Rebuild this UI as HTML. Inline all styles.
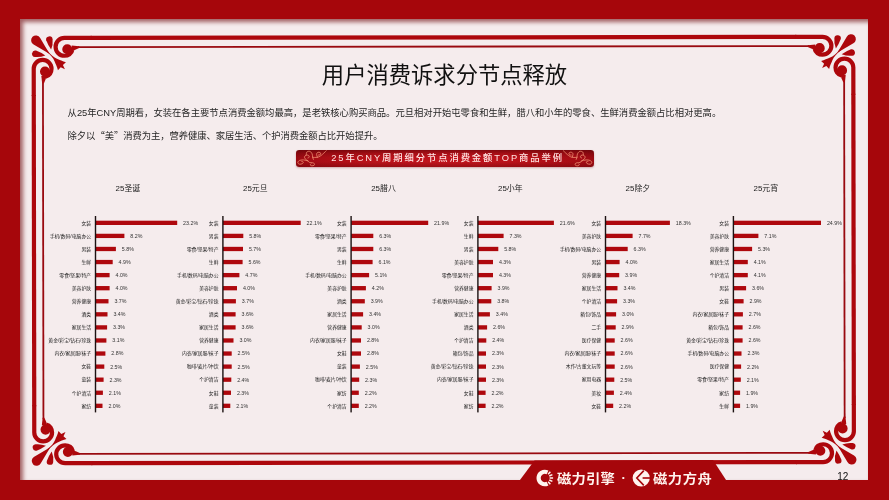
<!DOCTYPE html>
<html lang="zh-CN"><head><meta charset="utf-8"><title>用户消费诉求分节点释放</title>
<style>
html,body{margin:0;padding:0}
body{width:889px;height:500px;overflow:hidden;background:#a6060b;position:relative;font-family:"Liberation Sans","Noto Sans CJK SC",sans-serif}
.abs{position:absolute}
.panel{left:19.8px;top:19.4px;width:848.3px;height:460.4px;background:#f5eced;box-shadow:inset 3px 3px 4.5px rgba(105,0,5,.6)}
.title{left:0;width:889px;top:59.3px;text-align:center;font-size:22.3px;font-weight:400;color:#111;line-height:34px;letter-spacing:0}
.para{left:67.6px;font-size:9.33px;color:#262626;white-space:nowrap;line-height:14px}
.banner{border-radius:3.2px;background:linear-gradient(180deg,rgba(90,4,8,.55) 0%,rgba(90,4,8,.18) 22%,rgba(90,4,8,0) 45%,rgba(90,4,8,0) 70%,rgba(90,4,8,.35) 100%),radial-gradient(ellipse 55% 140% at 50% 70%,#c2151e 0%,#b81119 50%,#a40c14 85%,#8e0910 100%);box-shadow:0 1px 2px rgba(120,20,20,.3)}
.q{font-family:"Noto Sans CJK SC",sans-serif}
.btext{text-align:center;color:#ffe4e2;font-weight:500;font-size:9.33px;letter-spacing:1.9px;white-space:nowrap;text-indent:5.6px}
</style></head><body>
<div class="abs panel"></div>
<svg class="abs" style="left:0;top:0" width="889" height="500" viewBox="0 0 889 500">
<g transform="rotate(-0.086 444.5 250)">
<g fill="#ad070c">
<rect x="91.0" y="35.3" width="705.6" height="4.2"/>
<rect x="91.0" y="460.5" width="705.6" height="4.2"/>
<rect x="31.9" y="94.4" width="4.2" height="311.20000000000005"/>
<rect x="851.5" y="94.4" width="4.2" height="311.20000000000005"/>
</g>
<g fill="#990a10">
<rect x="78.0" y="45.7" width="731.6" height="1.8"/>
<rect x="78.0" y="452.5" width="731.6" height="1.8"/>
<rect x="42.3" y="81.4" width="1.8" height="337.20000000000005"/>
<rect x="843.5000000000001" y="81.4" width="1.8" height="337.20000000000005"/>
</g>
<g transform="translate(32.0,35.4)"><path d="M 60 2 L 32.8 2 A 8.9 8.9 0 0 0 32.8 19.8 C 36.5 19.8 40 17.8 40.6 14" fill="none" stroke="#ad070c" stroke-width="4.2" stroke-linecap="butt"/><circle cx="35.6" cy="13.3" r="5.05" fill="#ad070c"/><path d="M 47.5 10.4 L 40 9.6 L 39.5 15 L 43.6 13.8 L 47.5 12.1 Z" fill="#ad070c"/><g transform="matrix(0 1 1 0 0 0)"><path d="M 60 2 L 32.8 2 A 8.9 8.9 0 0 0 32.8 19.8 C 36.5 19.8 40 17.8 40.6 14" fill="none" stroke="#ad070c" stroke-width="4.2" stroke-linecap="butt"/><circle cx="35.6" cy="13.3" r="5.05" fill="#ad070c"/><path d="M 47.5 10.4 L 40 9.6 L 39.5 15 L 43.6 13.8 L 47.5 12.1 Z" fill="#ad070c"/></g><path d="M 18 18 Q 13 9.6 8.5 1.9 A 4.85 4.85 0 1 0 1.9 8.5 Q 9.6 13 18 18 Z" fill="#ad070c"/><path d="M 19.4 13.6 Q 16.1 8.7 14.5 4.3 A 3.25 3.25 0 1 1 20.9 3.2 Q 21.5 8.6 19.4 13.6 Z" fill="#ad070c"/><g transform="matrix(0 1 1 0 0 0)"><path d="M 19.4 13.6 Q 16.1 8.7 14.5 4.3 A 3.25 3.25 0 1 1 20.9 3.2 Q 21.5 8.6 19.4 13.6 Z" fill="#ad070c"/></g><path d="M 15.6 14.6 C 19 19 22.2 21.6 25.2 22.8 C 28.2 24 30.8 25.4 34.2 26.2 L 31.2 29.0 L 33.2 33.2 L 29.0 31.2 L 26.2 34.2 C 25.4 30.8 24 28.2 22.8 25.2 C 21.6 22.2 19 19 14.6 15.6 Z" fill="#ad070c"/></g>
<g transform="translate(855.6,35.4) scale(-1,1)"><path d="M 60 2 L 32.8 2 A 8.9 8.9 0 0 0 32.8 19.8 C 36.5 19.8 40 17.8 40.6 14" fill="none" stroke="#ad070c" stroke-width="4.2" stroke-linecap="butt"/><circle cx="35.6" cy="13.3" r="5.05" fill="#ad070c"/><path d="M 47.5 10.4 L 40 9.6 L 39.5 15 L 43.6 13.8 L 47.5 12.1 Z" fill="#ad070c"/><g transform="matrix(0 1 1 0 0 0)"><path d="M 60 2 L 32.8 2 A 8.9 8.9 0 0 0 32.8 19.8 C 36.5 19.8 40 17.8 40.6 14" fill="none" stroke="#ad070c" stroke-width="4.2" stroke-linecap="butt"/><circle cx="35.6" cy="13.3" r="5.05" fill="#ad070c"/><path d="M 47.5 10.4 L 40 9.6 L 39.5 15 L 43.6 13.8 L 47.5 12.1 Z" fill="#ad070c"/></g><path d="M 18 18 Q 13 9.6 8.5 1.9 A 4.85 4.85 0 1 0 1.9 8.5 Q 9.6 13 18 18 Z" fill="#ad070c"/><path d="M 19.4 13.6 Q 16.1 8.7 14.5 4.3 A 3.25 3.25 0 1 1 20.9 3.2 Q 21.5 8.6 19.4 13.6 Z" fill="#ad070c"/><g transform="matrix(0 1 1 0 0 0)"><path d="M 19.4 13.6 Q 16.1 8.7 14.5 4.3 A 3.25 3.25 0 1 1 20.9 3.2 Q 21.5 8.6 19.4 13.6 Z" fill="#ad070c"/></g><path d="M 15.6 14.6 C 19 19 22.2 21.6 25.2 22.8 C 28.2 24 30.8 25.4 34.2 26.2 L 31.2 29.0 L 33.2 33.2 L 29.0 31.2 L 26.2 34.2 C 25.4 30.8 24 28.2 22.8 25.2 C 21.6 22.2 19 19 14.6 15.6 Z" fill="#ad070c"/></g>
<g transform="translate(32.0,464.6) scale(1,-1)"><path d="M 60 2 L 32.8 2 A 8.9 8.9 0 0 0 32.8 19.8 C 36.5 19.8 40 17.8 40.6 14" fill="none" stroke="#ad070c" stroke-width="4.2" stroke-linecap="butt"/><circle cx="35.6" cy="13.3" r="5.05" fill="#ad070c"/><path d="M 47.5 10.4 L 40 9.6 L 39.5 15 L 43.6 13.8 L 47.5 12.1 Z" fill="#ad070c"/><g transform="matrix(0 1 1 0 0 0)"><path d="M 60 2 L 32.8 2 A 8.9 8.9 0 0 0 32.8 19.8 C 36.5 19.8 40 17.8 40.6 14" fill="none" stroke="#ad070c" stroke-width="4.2" stroke-linecap="butt"/><circle cx="35.6" cy="13.3" r="5.05" fill="#ad070c"/><path d="M 47.5 10.4 L 40 9.6 L 39.5 15 L 43.6 13.8 L 47.5 12.1 Z" fill="#ad070c"/></g><path d="M 18 18 Q 13 9.6 8.5 1.9 A 4.85 4.85 0 1 0 1.9 8.5 Q 9.6 13 18 18 Z" fill="#ad070c"/><path d="M 19.4 13.6 Q 16.1 8.7 14.5 4.3 A 3.25 3.25 0 1 1 20.9 3.2 Q 21.5 8.6 19.4 13.6 Z" fill="#ad070c"/><g transform="matrix(0 1 1 0 0 0)"><path d="M 19.4 13.6 Q 16.1 8.7 14.5 4.3 A 3.25 3.25 0 1 1 20.9 3.2 Q 21.5 8.6 19.4 13.6 Z" fill="#ad070c"/></g><path d="M 15.6 14.6 C 19 19 22.2 21.6 25.2 22.8 C 28.2 24 30.8 25.4 34.2 26.2 L 31.2 29.0 L 33.2 33.2 L 29.0 31.2 L 26.2 34.2 C 25.4 30.8 24 28.2 22.8 25.2 C 21.6 22.2 19 19 14.6 15.6 Z" fill="#ad070c"/></g>
<g transform="translate(855.6,464.6) scale(-1,-1)"><path d="M 60 2 L 32.8 2 A 8.9 8.9 0 0 0 32.8 19.8 C 36.5 19.8 40 17.8 40.6 14" fill="none" stroke="#ad070c" stroke-width="4.2" stroke-linecap="butt"/><circle cx="35.6" cy="13.3" r="5.05" fill="#ad070c"/><path d="M 47.5 10.4 L 40 9.6 L 39.5 15 L 43.6 13.8 L 47.5 12.1 Z" fill="#ad070c"/><g transform="matrix(0 1 1 0 0 0)"><path d="M 60 2 L 32.8 2 A 8.9 8.9 0 0 0 32.8 19.8 C 36.5 19.8 40 17.8 40.6 14" fill="none" stroke="#ad070c" stroke-width="4.2" stroke-linecap="butt"/><circle cx="35.6" cy="13.3" r="5.05" fill="#ad070c"/><path d="M 47.5 10.4 L 40 9.6 L 39.5 15 L 43.6 13.8 L 47.5 12.1 Z" fill="#ad070c"/></g><path d="M 18 18 Q 13 9.6 8.5 1.9 A 4.85 4.85 0 1 0 1.9 8.5 Q 9.6 13 18 18 Z" fill="#ad070c"/><path d="M 19.4 13.6 Q 16.1 8.7 14.5 4.3 A 3.25 3.25 0 1 1 20.9 3.2 Q 21.5 8.6 19.4 13.6 Z" fill="#ad070c"/><g transform="matrix(0 1 1 0 0 0)"><path d="M 19.4 13.6 Q 16.1 8.7 14.5 4.3 A 3.25 3.25 0 1 1 20.9 3.2 Q 21.5 8.6 19.4 13.6 Z" fill="#ad070c"/></g><path d="M 15.6 14.6 C 19 19 22.2 21.6 25.2 22.8 C 28.2 24 30.8 25.4 34.2 26.2 L 31.2 29.0 L 33.2 33.2 L 29.0 31.2 L 26.2 34.2 C 25.4 30.8 24 28.2 22.8 25.2 C 21.6 22.2 19 19 14.6 15.6 Z" fill="#ad070c"/></g>
</g>
</svg>
<div class="abs title">用户消费诉求分节点释放</div>
<div class="abs para" style="top:106px;letter-spacing:-0.02px">从25年CNY周期看，女装在各主要节点消费金额均最高，是老铁核心购买商品。元旦相对开始屯零食和生鲜，腊八和小年的零食、生鲜消费金额占比相对更高。</div>
<div class="abs para" style="top:128.2px;letter-spacing:-0.07px">除夕以<span class="q">“</span>美<span class="q">”</span>消费为主，营养健康、家居生活、个护消费金额占比开始提升。</div>
<div class="abs banner" style="left:296.0px;top:150.0px;width:297.6px;height:17.0px"></div>
<svg class="abs" style="left:296.0px;top:150.0px" width="297.6" height="17.0" viewBox="0 0 297.6 17.0">
<path d="M 11.90 10.90 C 11.17 10.73 8.92 9.97 7.50 9.90 C 6.08 9.83 4.35 10.05 3.40 10.50 C 2.45 10.95 1.80 11.98 1.80 12.60 C 1.80 13.22 2.62 14.03 3.40 14.20 C 4.18 14.37 5.87 13.98 6.50 13.60 C 7.13 13.22 7.37 12.28 7.20 11.90 C 7.03 11.52 5.78 11.40 5.50 11.30 M 11.90 10.90 C 11.45 10.55 9.77 9.48 9.20 8.80 C 8.63 8.12 8.33 7.42 8.50 6.80 C 8.67 6.18 9.52 5.32 10.20 5.10 C 10.88 4.88 12.10 5.15 12.60 5.50 C 13.10 5.85 13.32 6.80 13.20 7.20 C 13.08 7.60 12.12 7.78 11.90 7.90 M 10.20 5.10 C 10.32 4.58 10.27 2.62 10.90 2.00 C 11.53 1.38 13.12 1.05 14.00 1.40 C 14.88 1.75 15.77 3.12 16.20 4.10 C 16.63 5.08 16.40 6.42 16.60 7.30 C 16.80 8.18 17.27 9.05 17.40 9.40 M 11.90 10.90 C 12.18 11.17 12.87 12.20 13.60 12.50 C 14.33 12.80 15.52 12.52 16.30 12.70 C 17.08 12.88 18.00 13.17 18.30 13.60 C 18.60 14.03 18.52 14.93 18.10 15.30 C 17.68 15.67 16.45 15.87 15.80 15.80 C 15.15 15.73 14.33 15.22 14.20 14.90 C 14.07 14.58 14.87 14.07 15.00 13.90 M 16.60 7.30 C 17.33 7.32 19.60 7.68 21.00 7.40 C 22.40 7.12 23.47 6.70 25.00 5.60 C 26.53 4.50 29.33 1.60 30.20 0.80 M 21.40 7.30 C 21.27 6.82 20.63 5.15 20.60 4.40 C 20.57 3.65 20.80 3.17 21.20 2.80 C 21.60 2.43 22.42 2.13 23.00 2.20 C 23.58 2.27 24.52 2.77 24.70 3.20 C 24.88 3.63 24.47 4.50 24.10 4.80 C 23.73 5.10 22.77 4.97 22.50 5.00" fill="none" stroke="#ec8a6e" stroke-width="0.9" stroke-linecap="round" stroke-linejoin="round" opacity="0.92"/>
<g transform="translate(297.6,0) scale(-1,1)"><path d="M 11.90 10.90 C 11.17 10.73 8.92 9.97 7.50 9.90 C 6.08 9.83 4.35 10.05 3.40 10.50 C 2.45 10.95 1.80 11.98 1.80 12.60 C 1.80 13.22 2.62 14.03 3.40 14.20 C 4.18 14.37 5.87 13.98 6.50 13.60 C 7.13 13.22 7.37 12.28 7.20 11.90 C 7.03 11.52 5.78 11.40 5.50 11.30 M 11.90 10.90 C 11.45 10.55 9.77 9.48 9.20 8.80 C 8.63 8.12 8.33 7.42 8.50 6.80 C 8.67 6.18 9.52 5.32 10.20 5.10 C 10.88 4.88 12.10 5.15 12.60 5.50 C 13.10 5.85 13.32 6.80 13.20 7.20 C 13.08 7.60 12.12 7.78 11.90 7.90 M 10.20 5.10 C 10.32 4.58 10.27 2.62 10.90 2.00 C 11.53 1.38 13.12 1.05 14.00 1.40 C 14.88 1.75 15.77 3.12 16.20 4.10 C 16.63 5.08 16.40 6.42 16.60 7.30 C 16.80 8.18 17.27 9.05 17.40 9.40 M 11.90 10.90 C 12.18 11.17 12.87 12.20 13.60 12.50 C 14.33 12.80 15.52 12.52 16.30 12.70 C 17.08 12.88 18.00 13.17 18.30 13.60 C 18.60 14.03 18.52 14.93 18.10 15.30 C 17.68 15.67 16.45 15.87 15.80 15.80 C 15.15 15.73 14.33 15.22 14.20 14.90 C 14.07 14.58 14.87 14.07 15.00 13.90 M 16.60 7.30 C 17.33 7.32 19.60 7.68 21.00 7.40 C 22.40 7.12 23.47 6.70 25.00 5.60 C 26.53 4.50 29.33 1.60 30.20 0.80 M 21.40 7.30 C 21.27 6.82 20.63 5.15 20.60 4.40 C 20.57 3.65 20.80 3.17 21.20 2.80 C 21.60 2.43 22.42 2.13 23.00 2.20 C 23.58 2.27 24.52 2.77 24.70 3.20 C 24.88 3.63 24.47 4.50 24.10 4.80 C 23.73 5.10 22.77 4.97 22.50 5.00" fill="none" stroke="#ec8a6e" stroke-width="0.9" stroke-linecap="round" stroke-linejoin="round" opacity="0.92"/></g>
</svg>
<div class="abs btext" style="left:296.0px;top:150.0px;width:297.6px;height:17.0px;line-height:17.0px">25年CNY周期细分节点消费金额TOP商品举例</div>
<svg class="abs" style="left:0;top:0" width="889" height="500" viewBox="0 0 889 500">
<g font-family="'Liberation Sans','Noto Sans CJK SC',sans-serif" fill="#333">
<text x="127.9" y="190.7" font-size="7.9" text-anchor="middle" fill="#222">25圣诞</text>
<rect x="95.5" y="220.69" width="81.7" height="4.3" fill="#ae080d"/>
<text x="91.1" y="224.64" font-size="4.85" text-anchor="end" fill="#222">女装</text>
<text x="183.1" y="224.74" font-size="5.3" fill="#333">23.2%</text>
<rect x="95.5" y="233.75" width="28.9" height="4.3" fill="#ae080d"/>
<text x="91.1" y="237.71" font-size="4.85" text-anchor="end" fill="#222">手机/数码/电脑办公</text>
<text x="130.3" y="237.81" font-size="5.3" fill="#333">8.2%</text>
<rect x="95.5" y="246.83" width="20.4" height="4.3" fill="#ae080d"/>
<text x="91.1" y="250.78" font-size="4.85" text-anchor="end" fill="#222">男装</text>
<text x="121.8" y="250.88" font-size="5.3" fill="#333">5.8%</text>
<rect x="95.5" y="259.90" width="17.2" height="4.3" fill="#ae080d"/>
<text x="91.1" y="263.85" font-size="4.85" text-anchor="end" fill="#222">生鲜</text>
<text x="118.6" y="263.94" font-size="5.3" fill="#333">4.9%</text>
<rect x="95.5" y="272.97" width="14.1" height="4.3" fill="#ae080d"/>
<text x="91.1" y="276.92" font-size="4.85" text-anchor="end" fill="#222">零食/坚果/特产</text>
<text x="115.5" y="277.01" font-size="5.3" fill="#333">4.0%</text>
<rect x="95.5" y="286.04" width="14.1" height="4.3" fill="#ae080d"/>
<text x="91.1" y="289.99" font-size="4.85" text-anchor="end" fill="#222">美容护肤</text>
<text x="115.5" y="290.08" font-size="5.3" fill="#333">4.0%</text>
<rect x="95.5" y="299.11" width="13.0" height="4.3" fill="#ae080d"/>
<text x="91.1" y="303.06" font-size="4.85" text-anchor="end" fill="#222">营养健康</text>
<text x="114.4" y="303.15" font-size="5.3" fill="#333">3.7%</text>
<rect x="95.5" y="312.18" width="12.0" height="4.3" fill="#ae080d"/>
<text x="91.1" y="316.13" font-size="4.85" text-anchor="end" fill="#222">酒类</text>
<text x="113.4" y="316.23" font-size="5.3" fill="#333">3.4%</text>
<rect x="95.5" y="325.25" width="11.6" height="4.3" fill="#ae080d"/>
<text x="91.1" y="329.19" font-size="4.85" text-anchor="end" fill="#222">家居生活</text>
<text x="113.0" y="329.29" font-size="5.3" fill="#333">3.3%</text>
<rect x="95.5" y="338.32" width="10.9" height="4.3" fill="#ae080d"/>
<text x="91.1" y="342.27" font-size="4.85" text-anchor="end" fill="#222">黄金/彩宝/钻石/珍珠</text>
<text x="112.3" y="342.37" font-size="5.3" fill="#333">3.1%</text>
<rect x="95.5" y="351.39" width="9.9" height="4.3" fill="#ae080d"/>
<text x="91.1" y="355.34" font-size="4.85" text-anchor="end" fill="#222">内衣/家居服/袜子</text>
<text x="111.3" y="355.44" font-size="5.3" fill="#333">2.8%</text>
<rect x="95.5" y="364.46" width="8.8" height="4.3" fill="#ae080d"/>
<text x="91.1" y="368.41" font-size="4.85" text-anchor="end" fill="#222">女鞋</text>
<text x="110.2" y="368.50" font-size="5.3" fill="#333">2.5%</text>
<rect x="95.5" y="377.53" width="8.1" height="4.3" fill="#ae080d"/>
<text x="91.1" y="381.48" font-size="4.85" text-anchor="end" fill="#222">童装</text>
<text x="109.5" y="381.57" font-size="5.3" fill="#333">2.3%</text>
<rect x="95.5" y="390.60" width="7.4" height="4.3" fill="#ae080d"/>
<text x="91.1" y="394.55" font-size="4.85" text-anchor="end" fill="#222">个护清洁</text>
<text x="108.8" y="394.64" font-size="5.3" fill="#333">2.1%</text>
<rect x="95.5" y="403.67" width="7.0" height="4.3" fill="#ae080d"/>
<text x="91.1" y="407.62" font-size="4.85" text-anchor="end" fill="#222">家纺</text>
<text x="108.4" y="407.72" font-size="5.3" fill="#333">2.0%</text>
<rect x="94.8" y="216.0" width="1.4" height="196.4" fill="#1c1212"/>
<text x="255.3" y="190.7" font-size="7.9" text-anchor="middle" fill="#222">25元旦</text>
<rect x="222.9" y="220.69" width="77.8" height="4.3" fill="#ae080d"/>
<text x="218.5" y="224.64" font-size="4.85" text-anchor="end" fill="#222">女装</text>
<text x="306.6" y="224.74" font-size="5.3" fill="#333">22.1%</text>
<rect x="222.9" y="233.75" width="20.4" height="4.3" fill="#ae080d"/>
<text x="218.5" y="237.71" font-size="4.85" text-anchor="end" fill="#222">男装</text>
<text x="249.2" y="237.81" font-size="5.3" fill="#333">5.8%</text>
<rect x="222.9" y="246.83" width="20.1" height="4.3" fill="#ae080d"/>
<text x="218.5" y="250.78" font-size="4.85" text-anchor="end" fill="#222">零食/坚果/特产</text>
<text x="248.9" y="250.88" font-size="5.3" fill="#333">5.7%</text>
<rect x="222.9" y="259.90" width="19.7" height="4.3" fill="#ae080d"/>
<text x="218.5" y="263.85" font-size="4.85" text-anchor="end" fill="#222">生鲜</text>
<text x="248.5" y="263.94" font-size="5.3" fill="#333">5.6%</text>
<rect x="222.9" y="272.97" width="16.5" height="4.3" fill="#ae080d"/>
<text x="218.5" y="276.92" font-size="4.85" text-anchor="end" fill="#222">手机/数码/电脑办公</text>
<text x="245.3" y="277.01" font-size="5.3" fill="#333">4.7%</text>
<rect x="222.9" y="286.04" width="14.1" height="4.3" fill="#ae080d"/>
<text x="218.5" y="289.99" font-size="4.85" text-anchor="end" fill="#222">美容护肤</text>
<text x="242.9" y="290.08" font-size="5.3" fill="#333">4.0%</text>
<rect x="222.9" y="299.11" width="13.0" height="4.3" fill="#ae080d"/>
<text x="218.5" y="303.06" font-size="4.85" text-anchor="end" fill="#222">黄金/彩宝/钻石/珍珠</text>
<text x="241.8" y="303.15" font-size="5.3" fill="#333">3.7%</text>
<rect x="222.9" y="312.18" width="12.7" height="4.3" fill="#ae080d"/>
<text x="218.5" y="316.13" font-size="4.85" text-anchor="end" fill="#222">酒类</text>
<text x="241.5" y="316.23" font-size="5.3" fill="#333">3.6%</text>
<rect x="222.9" y="325.25" width="12.7" height="4.3" fill="#ae080d"/>
<text x="218.5" y="329.19" font-size="4.85" text-anchor="end" fill="#222">家居生活</text>
<text x="241.5" y="329.29" font-size="5.3" fill="#333">3.6%</text>
<rect x="222.9" y="338.32" width="10.6" height="4.3" fill="#ae080d"/>
<text x="218.5" y="342.27" font-size="4.85" text-anchor="end" fill="#222">营养健康</text>
<text x="239.4" y="342.37" font-size="5.3" fill="#333">3.0%</text>
<rect x="222.9" y="351.39" width="8.8" height="4.3" fill="#ae080d"/>
<text x="218.5" y="355.34" font-size="4.85" text-anchor="end" fill="#222">内衣/家居服/袜子</text>
<text x="237.6" y="355.44" font-size="5.3" fill="#333">2.5%</text>
<rect x="222.9" y="364.46" width="8.8" height="4.3" fill="#ae080d"/>
<text x="218.5" y="368.41" font-size="4.85" text-anchor="end" fill="#222">咖啡/麦片/冲饮</text>
<text x="237.6" y="368.50" font-size="5.3" fill="#333">2.5%</text>
<rect x="222.9" y="377.53" width="8.4" height="4.3" fill="#ae080d"/>
<text x="218.5" y="381.48" font-size="4.85" text-anchor="end" fill="#222">个护清洁</text>
<text x="237.2" y="381.57" font-size="5.3" fill="#333">2.4%</text>
<rect x="222.9" y="390.60" width="8.1" height="4.3" fill="#ae080d"/>
<text x="218.5" y="394.55" font-size="4.85" text-anchor="end" fill="#222">女鞋</text>
<text x="236.9" y="394.64" font-size="5.3" fill="#333">2.3%</text>
<rect x="222.9" y="403.67" width="7.4" height="4.3" fill="#ae080d"/>
<text x="218.5" y="407.62" font-size="4.85" text-anchor="end" fill="#222">童装</text>
<text x="236.2" y="407.72" font-size="5.3" fill="#333">2.1%</text>
<rect x="222.2" y="216.0" width="1.4" height="196.4" fill="#1c1212"/>
<text x="383.5" y="190.7" font-size="7.9" text-anchor="middle" fill="#222">25腊八</text>
<rect x="351.1" y="220.69" width="77.1" height="4.3" fill="#ae080d"/>
<text x="346.7" y="224.64" font-size="4.85" text-anchor="end" fill="#222">女装</text>
<text x="434.1" y="224.74" font-size="5.3" fill="#333">21.9%</text>
<rect x="351.1" y="233.75" width="22.2" height="4.3" fill="#ae080d"/>
<text x="346.7" y="237.71" font-size="4.85" text-anchor="end" fill="#222">零食/坚果/特产</text>
<text x="379.2" y="237.81" font-size="5.3" fill="#333">6.3%</text>
<rect x="351.1" y="246.83" width="22.2" height="4.3" fill="#ae080d"/>
<text x="346.7" y="250.78" font-size="4.85" text-anchor="end" fill="#222">男装</text>
<text x="379.2" y="250.88" font-size="5.3" fill="#333">6.3%</text>
<rect x="351.1" y="259.90" width="21.5" height="4.3" fill="#ae080d"/>
<text x="346.7" y="263.85" font-size="4.85" text-anchor="end" fill="#222">生鲜</text>
<text x="378.5" y="263.94" font-size="5.3" fill="#333">6.1%</text>
<rect x="351.1" y="272.97" width="18.0" height="4.3" fill="#ae080d"/>
<text x="346.7" y="276.92" font-size="4.85" text-anchor="end" fill="#222">手机/数码/电脑办公</text>
<text x="375.0" y="277.01" font-size="5.3" fill="#333">5.1%</text>
<rect x="351.1" y="286.04" width="14.8" height="4.3" fill="#ae080d"/>
<text x="346.7" y="289.99" font-size="4.85" text-anchor="end" fill="#222">美容护肤</text>
<text x="371.8" y="290.08" font-size="5.3" fill="#333">4.2%</text>
<rect x="351.1" y="299.11" width="13.7" height="4.3" fill="#ae080d"/>
<text x="346.7" y="303.06" font-size="4.85" text-anchor="end" fill="#222">酒类</text>
<text x="370.7" y="303.15" font-size="5.3" fill="#333">3.9%</text>
<rect x="351.1" y="312.18" width="12.0" height="4.3" fill="#ae080d"/>
<text x="346.7" y="316.13" font-size="4.85" text-anchor="end" fill="#222">家居生活</text>
<text x="369.0" y="316.23" font-size="5.3" fill="#333">3.4%</text>
<rect x="351.1" y="325.25" width="10.6" height="4.3" fill="#ae080d"/>
<text x="346.7" y="329.19" font-size="4.85" text-anchor="end" fill="#222">营养健康</text>
<text x="367.6" y="329.29" font-size="5.3" fill="#333">3.0%</text>
<rect x="351.1" y="338.32" width="9.9" height="4.3" fill="#ae080d"/>
<text x="346.7" y="342.27" font-size="4.85" text-anchor="end" fill="#222">内衣/家居服/袜子</text>
<text x="366.9" y="342.37" font-size="5.3" fill="#333">2.8%</text>
<rect x="351.1" y="351.39" width="9.9" height="4.3" fill="#ae080d"/>
<text x="346.7" y="355.34" font-size="4.85" text-anchor="end" fill="#222">女鞋</text>
<text x="366.9" y="355.44" font-size="5.3" fill="#333">2.8%</text>
<rect x="351.1" y="364.46" width="8.8" height="4.3" fill="#ae080d"/>
<text x="346.7" y="368.41" font-size="4.85" text-anchor="end" fill="#222">童装</text>
<text x="365.8" y="368.50" font-size="5.3" fill="#333">2.5%</text>
<rect x="351.1" y="377.53" width="8.1" height="4.3" fill="#ae080d"/>
<text x="346.7" y="381.48" font-size="4.85" text-anchor="end" fill="#222">咖啡/麦片/冲饮</text>
<text x="365.1" y="381.57" font-size="5.3" fill="#333">2.3%</text>
<rect x="351.1" y="390.60" width="7.7" height="4.3" fill="#ae080d"/>
<text x="346.7" y="394.55" font-size="4.85" text-anchor="end" fill="#222">家纺</text>
<text x="364.7" y="394.64" font-size="5.3" fill="#333">2.2%</text>
<rect x="351.1" y="403.67" width="7.7" height="4.3" fill="#ae080d"/>
<text x="346.7" y="407.62" font-size="4.85" text-anchor="end" fill="#222">个护清洁</text>
<text x="364.7" y="407.72" font-size="5.3" fill="#333">2.2%</text>
<rect x="350.4" y="216.0" width="1.4" height="196.4" fill="#1c1212"/>
<text x="510.3" y="190.7" font-size="7.9" text-anchor="middle" fill="#222">25小年</text>
<rect x="477.9" y="220.69" width="76.0" height="4.3" fill="#ae080d"/>
<text x="473.5" y="224.64" font-size="4.85" text-anchor="end" fill="#222">女装</text>
<text x="559.8" y="224.74" font-size="5.3" fill="#333">21.6%</text>
<rect x="477.9" y="233.75" width="25.7" height="4.3" fill="#ae080d"/>
<text x="473.5" y="237.71" font-size="4.85" text-anchor="end" fill="#222">生鲜</text>
<text x="509.5" y="237.81" font-size="5.3" fill="#333">7.3%</text>
<rect x="477.9" y="246.83" width="20.4" height="4.3" fill="#ae080d"/>
<text x="473.5" y="250.78" font-size="4.85" text-anchor="end" fill="#222">男装</text>
<text x="504.2" y="250.88" font-size="5.3" fill="#333">5.8%</text>
<rect x="477.9" y="259.90" width="15.1" height="4.3" fill="#ae080d"/>
<text x="473.5" y="263.85" font-size="4.85" text-anchor="end" fill="#222">美容护肤</text>
<text x="498.9" y="263.94" font-size="5.3" fill="#333">4.3%</text>
<rect x="477.9" y="272.97" width="15.1" height="4.3" fill="#ae080d"/>
<text x="473.5" y="276.92" font-size="4.85" text-anchor="end" fill="#222">零食/坚果/特产</text>
<text x="498.9" y="277.01" font-size="5.3" fill="#333">4.3%</text>
<rect x="477.9" y="286.04" width="13.7" height="4.3" fill="#ae080d"/>
<text x="473.5" y="289.99" font-size="4.85" text-anchor="end" fill="#222">营养健康</text>
<text x="497.5" y="290.08" font-size="5.3" fill="#333">3.9%</text>
<rect x="477.9" y="299.11" width="13.4" height="4.3" fill="#ae080d"/>
<text x="473.5" y="303.06" font-size="4.85" text-anchor="end" fill="#222">手机/数码/电脑办公</text>
<text x="497.2" y="303.15" font-size="5.3" fill="#333">3.8%</text>
<rect x="477.9" y="312.18" width="12.0" height="4.3" fill="#ae080d"/>
<text x="473.5" y="316.13" font-size="4.85" text-anchor="end" fill="#222">家居生活</text>
<text x="495.8" y="316.23" font-size="5.3" fill="#333">3.4%</text>
<rect x="477.9" y="325.25" width="9.2" height="4.3" fill="#ae080d"/>
<text x="473.5" y="329.19" font-size="4.85" text-anchor="end" fill="#222">酒类</text>
<text x="493.0" y="329.29" font-size="5.3" fill="#333">2.6%</text>
<rect x="477.9" y="338.32" width="8.4" height="4.3" fill="#ae080d"/>
<text x="473.5" y="342.27" font-size="4.85" text-anchor="end" fill="#222">个护清洁</text>
<text x="492.2" y="342.37" font-size="5.3" fill="#333">2.4%</text>
<rect x="477.9" y="351.39" width="8.1" height="4.3" fill="#ae080d"/>
<text x="473.5" y="355.34" font-size="4.85" text-anchor="end" fill="#222">箱包/饰品</text>
<text x="491.9" y="355.44" font-size="5.3" fill="#333">2.3%</text>
<rect x="477.9" y="364.46" width="8.1" height="4.3" fill="#ae080d"/>
<text x="473.5" y="368.41" font-size="4.85" text-anchor="end" fill="#222">黄金/彩宝/钻石/珍珠</text>
<text x="491.9" y="368.50" font-size="5.3" fill="#333">2.3%</text>
<rect x="477.9" y="377.53" width="8.1" height="4.3" fill="#ae080d"/>
<text x="473.5" y="381.48" font-size="4.85" text-anchor="end" fill="#222">内衣/家居服/袜子</text>
<text x="491.9" y="381.57" font-size="5.3" fill="#333">2.3%</text>
<rect x="477.9" y="390.60" width="7.7" height="4.3" fill="#ae080d"/>
<text x="473.5" y="394.55" font-size="4.85" text-anchor="end" fill="#222">女鞋</text>
<text x="491.5" y="394.64" font-size="5.3" fill="#333">2.2%</text>
<rect x="477.9" y="403.67" width="7.7" height="4.3" fill="#ae080d"/>
<text x="473.5" y="407.62" font-size="4.85" text-anchor="end" fill="#222">家纺</text>
<text x="491.5" y="407.72" font-size="5.3" fill="#333">2.2%</text>
<rect x="477.2" y="216.0" width="1.4" height="196.4" fill="#1c1212"/>
<text x="637.9" y="190.7" font-size="7.9" text-anchor="middle" fill="#222">25除夕</text>
<rect x="605.5" y="220.69" width="64.4" height="4.3" fill="#ae080d"/>
<text x="601.1" y="224.64" font-size="4.85" text-anchor="end" fill="#222">女装</text>
<text x="675.8" y="224.74" font-size="5.3" fill="#333">18.3%</text>
<rect x="605.5" y="233.75" width="27.1" height="4.3" fill="#ae080d"/>
<text x="601.1" y="237.71" font-size="4.85" text-anchor="end" fill="#222">美容护肤</text>
<text x="638.5" y="237.81" font-size="5.3" fill="#333">7.7%</text>
<rect x="605.5" y="246.83" width="22.2" height="4.3" fill="#ae080d"/>
<text x="601.1" y="250.78" font-size="4.85" text-anchor="end" fill="#222">手机/数码/电脑办公</text>
<text x="633.6" y="250.88" font-size="5.3" fill="#333">6.3%</text>
<rect x="605.5" y="259.90" width="14.1" height="4.3" fill="#ae080d"/>
<text x="601.1" y="263.85" font-size="4.85" text-anchor="end" fill="#222">男装</text>
<text x="625.5" y="263.94" font-size="5.3" fill="#333">4.0%</text>
<rect x="605.5" y="272.97" width="13.7" height="4.3" fill="#ae080d"/>
<text x="601.1" y="276.92" font-size="4.85" text-anchor="end" fill="#222">营养健康</text>
<text x="625.1" y="277.01" font-size="5.3" fill="#333">3.9%</text>
<rect x="605.5" y="286.04" width="12.0" height="4.3" fill="#ae080d"/>
<text x="601.1" y="289.99" font-size="4.85" text-anchor="end" fill="#222">家居生活</text>
<text x="623.4" y="290.08" font-size="5.3" fill="#333">3.4%</text>
<rect x="605.5" y="299.11" width="11.6" height="4.3" fill="#ae080d"/>
<text x="601.1" y="303.06" font-size="4.85" text-anchor="end" fill="#222">个护清洁</text>
<text x="623.0" y="303.15" font-size="5.3" fill="#333">3.3%</text>
<rect x="605.5" y="312.18" width="10.6" height="4.3" fill="#ae080d"/>
<text x="601.1" y="316.13" font-size="4.85" text-anchor="end" fill="#222">箱包/饰品</text>
<text x="622.0" y="316.23" font-size="5.3" fill="#333">3.0%</text>
<rect x="605.5" y="325.25" width="10.2" height="4.3" fill="#ae080d"/>
<text x="601.1" y="329.19" font-size="4.85" text-anchor="end" fill="#222">二手</text>
<text x="621.6" y="329.29" font-size="5.3" fill="#333">2.9%</text>
<rect x="605.5" y="338.32" width="9.2" height="4.3" fill="#ae080d"/>
<text x="601.1" y="342.27" font-size="4.85" text-anchor="end" fill="#222">医疗保健</text>
<text x="620.6" y="342.37" font-size="5.3" fill="#333">2.6%</text>
<rect x="605.5" y="351.39" width="9.2" height="4.3" fill="#ae080d"/>
<text x="601.1" y="355.34" font-size="4.85" text-anchor="end" fill="#222">内衣/家居服/袜子</text>
<text x="620.6" y="355.44" font-size="5.3" fill="#333">2.6%</text>
<rect x="605.5" y="364.46" width="9.2" height="4.3" fill="#ae080d"/>
<text x="601.1" y="368.41" font-size="4.85" text-anchor="end" fill="#222">木作/古董文玩等</text>
<text x="620.6" y="368.50" font-size="5.3" fill="#333">2.6%</text>
<rect x="605.5" y="377.53" width="8.8" height="4.3" fill="#ae080d"/>
<text x="601.1" y="381.48" font-size="4.85" text-anchor="end" fill="#222">家用电器</text>
<text x="620.2" y="381.57" font-size="5.3" fill="#333">2.5%</text>
<rect x="605.5" y="390.60" width="8.4" height="4.3" fill="#ae080d"/>
<text x="601.1" y="394.55" font-size="4.85" text-anchor="end" fill="#222">美妆</text>
<text x="619.8" y="394.64" font-size="5.3" fill="#333">2.4%</text>
<rect x="605.5" y="403.67" width="7.7" height="4.3" fill="#ae080d"/>
<text x="601.1" y="407.62" font-size="4.85" text-anchor="end" fill="#222">女鞋</text>
<text x="619.1" y="407.72" font-size="5.3" fill="#333">2.2%</text>
<rect x="604.8" y="216.0" width="1.4" height="196.4" fill="#1c1212"/>
<text x="765.8" y="190.7" font-size="7.9" text-anchor="middle" fill="#222">25元宵</text>
<rect x="733.4" y="220.69" width="87.6" height="4.3" fill="#ae080d"/>
<text x="729.0" y="224.64" font-size="4.85" text-anchor="end" fill="#222">女装</text>
<text x="826.9" y="224.74" font-size="5.3" fill="#333">24.9%</text>
<rect x="733.4" y="233.75" width="25.0" height="4.3" fill="#ae080d"/>
<text x="729.0" y="237.71" font-size="4.85" text-anchor="end" fill="#222">美容护肤</text>
<text x="764.3" y="237.81" font-size="5.3" fill="#333">7.1%</text>
<rect x="733.4" y="246.83" width="18.7" height="4.3" fill="#ae080d"/>
<text x="729.0" y="250.78" font-size="4.85" text-anchor="end" fill="#222">营养健康</text>
<text x="758.0" y="250.88" font-size="5.3" fill="#333">5.3%</text>
<rect x="733.4" y="259.90" width="14.4" height="4.3" fill="#ae080d"/>
<text x="729.0" y="263.85" font-size="4.85" text-anchor="end" fill="#222">家居生活</text>
<text x="753.7" y="263.94" font-size="5.3" fill="#333">4.1%</text>
<rect x="733.4" y="272.97" width="14.4" height="4.3" fill="#ae080d"/>
<text x="729.0" y="276.92" font-size="4.85" text-anchor="end" fill="#222">个护清洁</text>
<text x="753.7" y="277.01" font-size="5.3" fill="#333">4.1%</text>
<rect x="733.4" y="286.04" width="12.7" height="4.3" fill="#ae080d"/>
<text x="729.0" y="289.99" font-size="4.85" text-anchor="end" fill="#222">男装</text>
<text x="752.0" y="290.08" font-size="5.3" fill="#333">3.6%</text>
<rect x="733.4" y="299.11" width="10.2" height="4.3" fill="#ae080d"/>
<text x="729.0" y="303.06" font-size="4.85" text-anchor="end" fill="#222">女鞋</text>
<text x="749.5" y="303.15" font-size="5.3" fill="#333">2.9%</text>
<rect x="733.4" y="312.18" width="9.5" height="4.3" fill="#ae080d"/>
<text x="729.0" y="316.13" font-size="4.85" text-anchor="end" fill="#222">内衣/家居服/袜子</text>
<text x="748.8" y="316.23" font-size="5.3" fill="#333">2.7%</text>
<rect x="733.4" y="325.25" width="9.2" height="4.3" fill="#ae080d"/>
<text x="729.0" y="329.19" font-size="4.85" text-anchor="end" fill="#222">箱包/饰品</text>
<text x="748.5" y="329.29" font-size="5.3" fill="#333">2.6%</text>
<rect x="733.4" y="338.32" width="9.2" height="4.3" fill="#ae080d"/>
<text x="729.0" y="342.27" font-size="4.85" text-anchor="end" fill="#222">黄金/彩宝/钻石/珍珠</text>
<text x="748.5" y="342.37" font-size="5.3" fill="#333">2.6%</text>
<rect x="733.4" y="351.39" width="8.1" height="4.3" fill="#ae080d"/>
<text x="729.0" y="355.34" font-size="4.85" text-anchor="end" fill="#222">手机/数码/电脑办公</text>
<text x="747.4" y="355.44" font-size="5.3" fill="#333">2.3%</text>
<rect x="733.4" y="364.46" width="7.7" height="4.3" fill="#ae080d"/>
<text x="729.0" y="368.41" font-size="4.85" text-anchor="end" fill="#222">医疗保健</text>
<text x="747.0" y="368.50" font-size="5.3" fill="#333">2.2%</text>
<rect x="733.4" y="377.53" width="7.4" height="4.3" fill="#ae080d"/>
<text x="729.0" y="381.48" font-size="4.85" text-anchor="end" fill="#222">零食/坚果/特产</text>
<text x="746.7" y="381.57" font-size="5.3" fill="#333">2.1%</text>
<rect x="733.4" y="390.60" width="6.7" height="4.3" fill="#ae080d"/>
<text x="729.0" y="394.55" font-size="4.85" text-anchor="end" fill="#222">家纺</text>
<text x="746.0" y="394.64" font-size="5.3" fill="#333">1.9%</text>
<rect x="733.4" y="403.67" width="6.7" height="4.3" fill="#ae080d"/>
<text x="729.0" y="407.62" font-size="4.85" text-anchor="end" fill="#222">生鲜</text>
<text x="746.0" y="407.72" font-size="5.3" fill="#333">1.9%</text>
<rect x="732.7" y="216.0" width="1.4" height="196.4" fill="#1c1212"/>
</g></svg>
<svg class="abs" style="left:0;top:0" width="889" height="500" viewBox="0 0 889 500">
<polygon points="534.5,460.4 713,460.1 726.7,481 519.2,481" fill="#a6060b"/>
<path d="M 547.52 472.43 A 6.2 6.2 0 1 0 547.52 483.57" fill="none" stroke="#fff3ee" stroke-width="4.2" stroke-linecap="butt"/>
<line x1="548.15" y1="474.28" x2="550.35" y2="471.83" stroke="#fff3ee" stroke-width="1.5"/>
<line x1="549.28" y1="476.01" x2="552.38" y2="474.62" stroke="#fff3ee" stroke-width="1.5"/>
<line x1="549.60" y1="478.00" x2="553.10" y2="478.00" stroke="#fff3ee" stroke-width="1.5"/>
<line x1="549.28" y1="479.99" x2="552.38" y2="481.38" stroke="#fff3ee" stroke-width="1.5"/>
<line x1="548.15" y1="481.72" x2="550.35" y2="484.17" stroke="#fff3ee" stroke-width="1.5"/>
<circle cx="641.2" cy="478.0" r="8.6" fill="#fff3ee"/>
<path d="M 643.8000000000001 470.6 L 636.8000000000001 478.0 L 643.8000000000001 485.4" fill="none" stroke="#a6060b" stroke-width="1.6" stroke-linejoin="miter"/>
<rect x="642.6" y="477.2" width="8" height="1.6" fill="#a6060b"/>
<g font-family="'Liberation Sans','Noto Sans CJK SC',sans-serif" font-weight="700" fill="#fff3ee">
<text transform="translate(556.9,483.4) scale(1.1,1)" font-size="13" letter-spacing="0.2">磁力引擎</text>
<text x="623.6" y="482.3" font-size="13" text-anchor="middle">·</text>
<text transform="translate(653.0,483.4) scale(1.1,1)" font-size="13" letter-spacing="0.5">磁力方舟</text>
</g>
<text x="842.8" y="480.2" font-size="10" text-anchor="middle" fill="#111" font-family="'Liberation Sans',sans-serif">12</text>
</svg>
</body></html>
